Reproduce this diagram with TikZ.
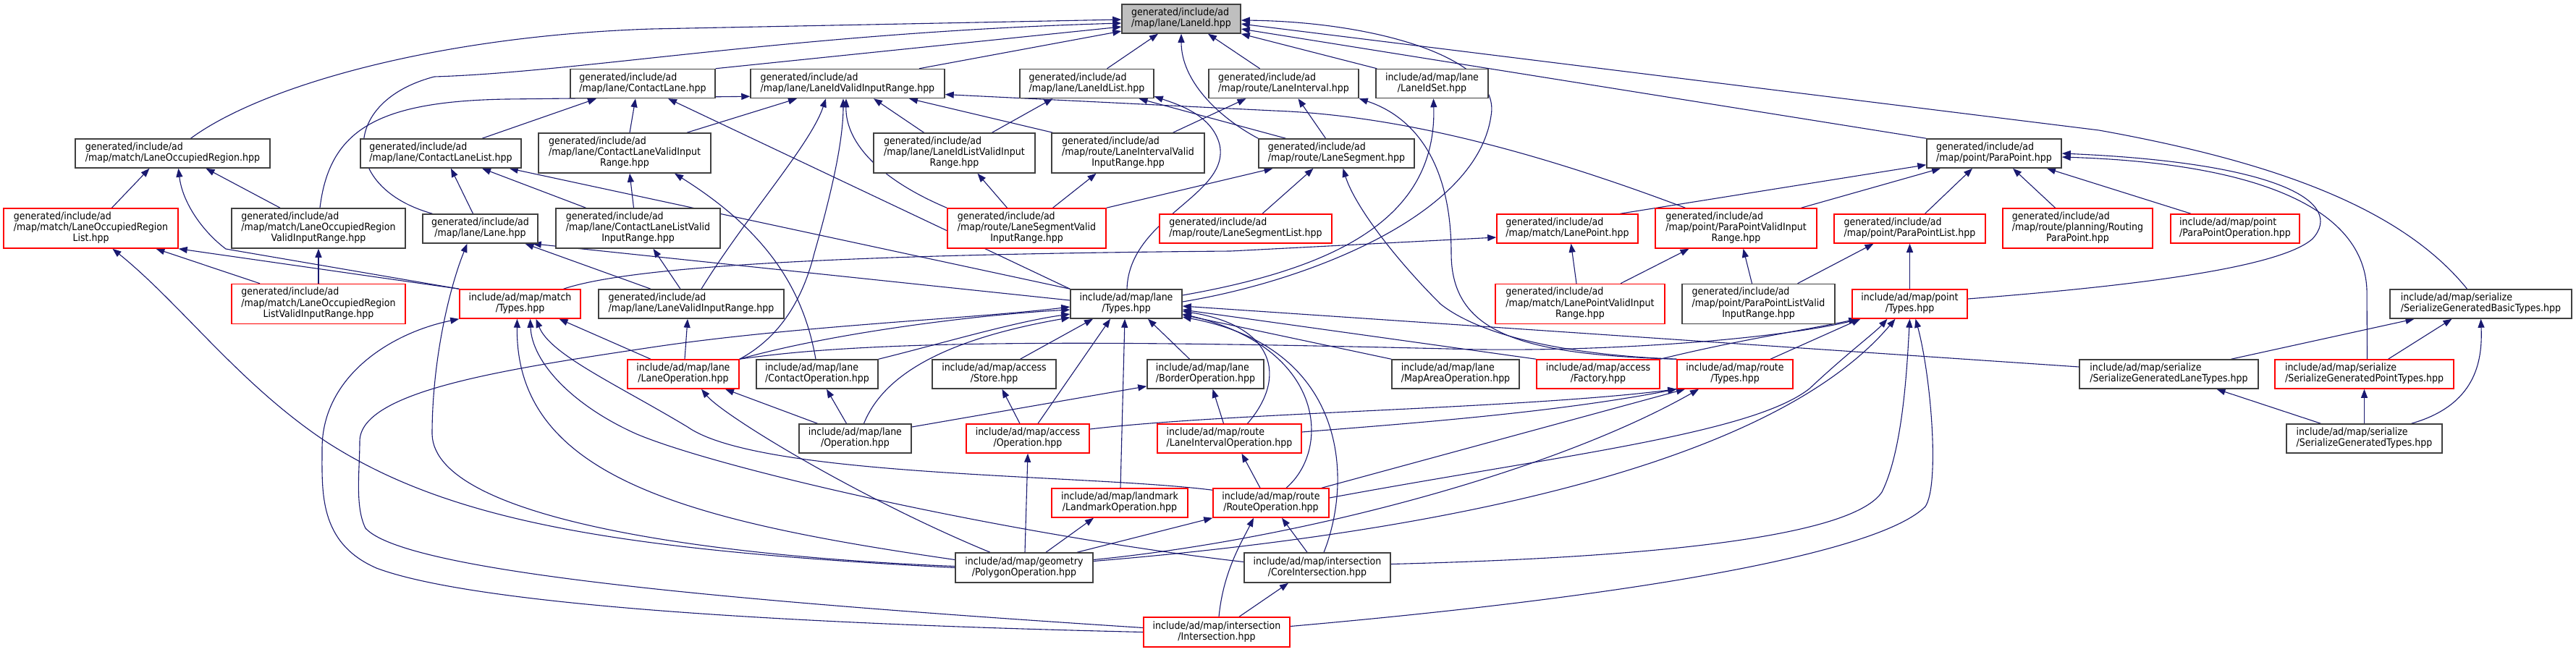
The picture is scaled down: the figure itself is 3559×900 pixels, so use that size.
\documentclass[tikz,border=0pt]{standalone}
\usepackage{fontspec}
\setmainfont{DejaVu Sans Condensed}
\usetikzlibrary{arrows.meta,calc}
\definecolor{edgec}{RGB}{25,25,112}
\definecolor{nodebd}{RGB}{64,64,64}
\definecolor{redbd}{RGB}{255,0,0}
\definecolor{lidfill}{RGB}{191,191,191}
\newcommand\lbb[2]{\begin{tabular}{@{}l@{}}#1\\\multicolumn{1}{@{}c@{}}{#2}\end{tabular}}
\newcommand\lbc[3]{\begin{tabular}{@{}l@{}}#1\\#2\\\multicolumn{1}{@{}c@{}}{#3}\end{tabular}}
\newcommand\AP[4]{($(#1.#2)+(#3,#4)$)}
\pgfdeclarelayer{edges}
\pgfdeclarelayer{back}
\pgfsetlayers{back,edges,main}
\tikzset{
 nb/.style={draw=nodebd, line width=1.5pt, fill=white, inner sep=0pt, font=\fontsize{14}{15}\selectfont},
 nr/.style={nb, draw=redbd},
 ng/.style={nb, fill=lidfill},
 e/.style={draw=edgec, line width=1.1pt, -{Triangle[length=12pt,width=9pt]}},
}
\begin{document}
\begin{tikzpicture}[x=1pt,y=-1pt]
\useasboundingbox (0,0) rectangle (3559,900);
\begin{pgfonlayer}{back}
\fill[white] (0,0) rectangle (3559,900);
\end{pgfonlayer}
% row 0
\node[ng,minimum width=164pt,minimum height=40pt] (lid) at (1632,26) {\lbb{generated/include/ad}{/map/lane/LaneId.hpp}};
% row 1
\node[nb,minimum width=200pt,minimum height=40pt] (cl) at (888,115.5) {\lbb{generated/include/ad}{/map/lane/ContactLane.hpp}};
\node[nb,minimum width=268pt,minimum height=40pt] (lidvir) at (1171,115.5) {\lbb{generated/include/ad}{/map/lane/LaneIdValidInputRange.hpp}};
\node[nb,minimum width=185pt,minimum height=40pt] (lidl) at (1501.5,115.5) {\lbb{generated/include/ad}{/map/lane/LaneIdList.hpp}};
\node[nb,minimum width=207pt,minimum height=40pt] (li) at (1773.5,115.5) {\lbb{generated/include/ad}{/map/route/LaneInterval.hpp}};
\node[nb,minimum width=155pt,minimum height=40pt] (lids) at (1978.5,115.5) {\lbb{include/ad/map/lane}{/LaneIdSet.hpp}};
% row 2
\node[nb,minimum width=269pt,minimum height=40pt] (lor) at (238.5,212) {\lbb{generated/include/ad}{/map/match/LaneOccupiedRegion.hpp}};
\node[nb,minimum width=222pt,minimum height=40pt] (cll) at (609,212) {\lbb{generated/include/ad}{/map/lane/ContactLaneList.hpp}};
\node[nb,minimum width=238pt,minimum height=55pt] (clvir) at (863,211.5) {\lbc{generated/include/ad}{/map/lane/ContactLaneValidInput}{Range.hpp}};
\node[nb,minimum width=223pt,minimum height=55pt] (lidlvir) at (1318.5,211.5) {\lbc{generated/include/ad}{/map/lane/LaneIdListValidInput}{Range.hpp}};
\node[nb,minimum width=211pt,minimum height=55pt] (livir) at (1558.5,211.5) {\lbc{generated/include/ad}{/map/route/LaneIntervalValid}{InputRange.hpp}};
\node[nb,minimum width=215pt,minimum height=40pt] (ls) at (1846.5,212) {\lbb{generated/include/ad}{/map/route/LaneSegment.hpp}};
\node[nb,minimum width=186pt,minimum height=40pt] (pp) at (2755,212) {\lbb{generated/include/ad}{/map/point/ParaPoint.hpp}};
% row 3
\node[nr,minimum width=241pt,minimum height=55pt] (lorl) at (125.5,315.5) {\lbc{generated/include/ad}{/map/match/LaneOccupiedRegion}{List.hpp}};
\node[nb,minimum width=240pt,minimum height=55pt] (lorvir) at (440,315.5) {\lbc{generated/include/ad}{/map/match/LaneOccupiedRegion}{ValidInputRange.hpp}};
\node[nb,minimum width=159pt,minimum height=40pt] (lane) at (663.5,316) {\lbb{generated/include/ad}{/map/lane/Lane.hpp}};
\node[nb,minimum width=227pt,minimum height=55pt] (cllvir) at (881.5,315.5) {\lbc{generated/include/ad}{/map/lane/ContactLaneListValid}{InputRange.hpp}};
\node[nr,minimum width=219pt,minimum height=55pt] (lsvir) at (1418.5,315.5) {\lbc{generated/include/ad}{/map/route/LaneSegmentValid}{InputRange.hpp}};
\node[nr,minimum width=238pt,minimum height=40pt] (lsl) at (1721,316) {\lbb{generated/include/ad}{/map/route/LaneSegmentList.hpp}};
\node[nr,minimum width=195pt,minimum height=40pt] (lp) at (2165.5,316) {\lbb{generated/include/ad}{/map/match/LanePoint.hpp}};
\node[nr,minimum width=223pt,minimum height=55pt] (ppvir) at (2398.5,315.5) {\lbc{generated/include/ad}{/map/point/ParaPointValidInput}{Range.hpp}};
\node[nr,minimum width=209pt,minimum height=40pt] (ppl) at (2638.5,316) {\lbb{generated/include/ad}{/map/point/ParaPointList.hpp}};
\node[nr,minimum width=207pt,minimum height=55pt] (rpp) at (2870.5,315.5) {\lbc{generated/include/ad}{/map/route/planning/Routing}{ParaPoint.hpp}};
\node[nr,minimum width=178pt,minimum height=40pt] (ppo) at (3088,316) {\lbb{include/ad/map/point}{/ParaPointOperation.hpp}};
% row 4
\node[nr,minimum width=240pt,minimum height=55pt] (lorlvir) at (440,420) {\lbc{generated/include/ad}{/map/match/LaneOccupiedRegion}{ListValidInputRange.hpp}};
\node[nr,minimum width=167pt,minimum height=40pt] (mt) at (718.5,420) {\lbb{include/ad/map/match}{/Types.hpp}};
\node[nb,minimum width=256pt,minimum height=40pt] (lvir) at (955,420) {\lbb{generated/include/ad}{/map/lane/LaneValidInputRange.hpp}};
\node[nb,minimum width=154pt,minimum height=40pt] (lt) at (1556,420) {\lbb{include/ad/map/lane}{/Types.hpp}};
\node[nr,minimum width=234pt,minimum height=55pt] (lpvir) at (2183,420) {\lbc{generated/include/ad}{/map/match/LanePointValidInput}{Range.hpp}};
\node[nb,minimum width=211pt,minimum height=55pt] (pplvir) at (2429.5,420) {\lbc{generated/include/ad}{/map/point/ParaPointListValid}{InputRange.hpp}};
\node[nr,minimum width=159pt,minimum height=40pt] (pt) at (2638.5,420) {\lbb{include/ad/map/point}{/Types.hpp}};
\node[nb,minimum width=251pt,minimum height=40pt] (sgbt) at (3427.5,420) {\lbb{include/ad/map/serialize}{/SerializeGeneratedBasicTypes.hpp}};
% row 5
\node[nr,minimum width=154pt,minimum height=40pt] (lop) at (944,517) {\lbb{include/ad/map/lane}{/LaneOperation.hpp}};
\node[nb,minimum width=168pt,minimum height=40pt] (cop) at (1129,517) {\lbb{include/ad/map/lane}{/ContactOperation.hpp}};
\node[nb,minimum width=171pt,minimum height=40pt] (st) at (1373.5,517) {\lbb{include/ad/map/access}{/Store.hpp}};
\node[nb,minimum width=161pt,minimum height=40pt] (bo) at (1665.5,517) {\lbb{include/ad/map/lane}{/BorderOperation.hpp}};
\node[nb,minimum width=176pt,minimum height=40pt] (mao) at (2011,517) {\lbb{include/ad/map/lane}{/MapAreaOperation.hpp}};
\node[nr,minimum width=170pt,minimum height=40pt] (fac) at (2208,517) {\lbb{include/ad/map/access}{/Factory.hpp}};
\node[nr,minimum width=160pt,minimum height=40pt] (rt) at (2397,517) {\lbb{include/ad/map/route}{/Types.hpp}};
\node[nb,minimum width=247pt,minimum height=40pt] (sglt) at (2996.5,517) {\lbb{include/ad/map/serialize}{/SerializeGeneratedLaneTypes.hpp}};
\node[nr,minimum width=247pt,minimum height=40pt] (sgpt) at (3266.5,517) {\lbb{include/ad/map/serialize}{/SerializeGeneratedPointTypes.hpp}};
% row 6
\node[nb,minimum width=155pt,minimum height=40pt] (lo) at (1181.5,606) {\lbb{include/ad/map/lane}{/Operation.hpp}};
\node[nr,minimum width=170pt,minimum height=40pt] (ao) at (1420,606) {\lbb{include/ad/map/access}{/Operation.hpp}};
\node[nr,minimum width=199pt,minimum height=40pt] (lio) at (1698.5,606) {\lbb{include/ad/map/route}{/LaneIntervalOperation.hpp}};
\node[nb,minimum width=215pt,minimum height=40pt] (sgt) at (3266.5,606) {\lbb{include/ad/map/serialize}{/SerializeGeneratedTypes.hpp}};
% row 7
\node[nr,minimum width=188pt,minimum height=40pt] (lmo) at (1547,695) {\lbb{include/ad/map/landmark}{/LandmarkOperation.hpp}};
\node[nr,minimum width=160pt,minimum height=40pt] (ro) at (1756,695) {\lbb{include/ad/map/route}{/RouteOperation.hpp}};
% row 8
\node[nb,minimum width=190pt,minimum height=41pt] (po) at (1415,784.5) {\lbb{include/ad/map/geometry}{/PolygonOperation.hpp}};
\node[nb,minimum width=202pt,minimum height=41pt] (ci) at (1820,784.5) {\lbb{include/ad/map/intersection}{/CoreIntersection.hpp}};
% row 9
\node[nr,minimum width=202pt,minimum height=41pt] (is) at (1681,873.5) {\lbb{include/ad/map/intersection}{/Intersection.hpp}};

\begin{pgfonlayer}{edges}
% into LaneId
\draw[e] \AP{cl}{north east}{0}{0} -- \AP{lid}{west}{0}{11};
\draw[e] \AP{lidvir}{north}{99}{0} -- \AP{lid}{west}{0}{17};
\draw[e] \AP{lidl}{north}{28}{0} -- \AP{lid}{south}{-32}{0};
\draw[e] \AP{li}{north}{-33}{0} -- \AP{lid}{south}{37}{0};
\draw[e] \AP{lids}{north west}{2}{0} -- \AP{lid}{south east}{0}{0};
\draw[e] \AP{lor}{north}{25}{0} .. controls (360,120) and (600,50) .. (900,40) -- \AP{lid}{west}{0}{1};
\draw[e] \AP{lane}{north}{-66}{0} .. controls (470,260) and (470,140) .. (600,106) .. controls (800,100) and (1100,45) .. \AP{lid}{west}{0}{6};
\draw[e] \AP{ls}{north west}{0}{0} .. controls (1680,160) and (1632,110) .. \AP{lid}{south}{0}{0};
\draw[e] \AP{pp}{north west}{0}{0} -- \AP{lid}{east}{0}{14};
\draw[e] \AP{sgbt}{north}{-19}{0} .. controls (3320,290) and (3150,225) .. (2900,180) -- \AP{lid}{east}{0}{7};
\draw[e] \AP{lt}{east}{0}{-3} .. controls (1800,390) and (2040,300) .. (2060,160) .. controls (2075,80) and (1900,30) .. \AP{lid}{east}{0}{2};
% row 1 targets
\draw[e] \AP{lorvir}{north}{2}{0} .. controls (455,180) and (520,140) .. (700,137) -- \AP{lidvir}{south west}{0}{-3};
\draw[e] \AP{cll}{north}{57}{0} -- \AP{cl}{south}{-64}{0};
\draw[e] \AP{clvir}{north}{7}{0} -- \AP{cl}{south}{-10}{0};
\draw[e] \AP{clvir}{north}{86}{0} -- \AP{lidvir}{south}{-70}{0};
\draw[e] \AP{lidlvir}{north}{-42}{0} -- \AP{lidvir}{south}{36}{0};
\draw[e] \AP{lidlvir}{north}{52}{0} -- \AP{lidl}{south}{-47}{0};
\draw[e] \AP{livir}{north}{-104}{0} -- \AP{lidvir}{south}{85}{0};
\draw[e] \AP{livir}{north}{62}{0} -- \AP{li}{south}{-52}{0};
\draw[e] \AP{ls}{north}{-70}{0} -- \AP{lidl}{south}{72}{0};
\draw[e] \AP{ls}{north}{-15}{0} -- \AP{li}{south}{20}{0};
\draw[e] \AP{lsvir}{north west}{0}{0} .. controls (1220,250) and (1168,200) .. \AP{lidvir}{south}{-2}{0};
\draw[e] \AP{ppvir}{north}{-70}{0} .. controls (2150,220) and (1950,160) .. (1760,153) -- \AP{lidvir}{east}{0}{15};
\draw[e] \AP{lvir}{north}{14}{0} .. controls (1030,300) and (1120,200) .. \AP{lidvir}{south}{-30}{0};
\draw[e] \AP{lop}{north east}{0}{0} .. controls (1080,465) and (1110,410) .. (1125,350) .. controls (1145,280) and (1165,200) .. \AP{lidvir}{south}{-6}{0};
\draw[e] \AP{lt}{north west}{0}{0} -- \AP{cl}{south}{35}{0};
\draw[e] \AP{lt}{north}{1}{0} .. controls (1560,300) and (1700,270) .. (1685,200) .. controls (1675,160) and (1630,145) .. \AP{lidl}{south east}{0}{-3};
\draw[e] \AP{lt}{east}{0}{-12} .. controls (1850,370) and (1985,300) .. \AP{lids}{south}{2}{0};
\draw[e] \AP{rt}{north west}{0}{0} .. controls (2100,490) and (2005,460) .. (2005,350) .. controls (2005,220) and (1950,160) .. \AP{li}{south east}{0}{0};
\draw[e] \AP{cop}{north}{-2}{0} .. controls (1110,400) and (1060,320) .. \AP{clvir}{south}{69}{0};
% row 2 targets
\draw[e] \AP{lorl}{north}{29}{0} -- \AP{lor}{south}{-32}{0};
\draw[e] \AP{lorvir}{north}{-53}{0} -- \AP{lor}{south}{46}{0};
\draw[e] \AP{mt}{north west}{0}{0} -- (312,344) .. controls (280,320) and (252,280) .. \AP{lor}{south}{8}{0};
\draw[e] \AP{lane}{north}{-10}{0} -- \AP{cll}{south}{14}{0};
\draw[e] \AP{cllvir}{north}{-72}{0} -- \AP{cll}{south}{57}{0};
\draw[e] \AP{lt}{north west}{0}{0} -- \AP{cll}{south east}{-17}{0};
\draw[e] \AP{cllvir}{north}{-6}{0} -- \AP{clvir}{south}{7}{0};
\draw[e] \AP{lsvir}{north}{-27}{0} -- \AP{lidlvir}{south}{32}{0};
\draw[e] \AP{lsvir}{north}{36}{0} -- \AP{livir}{south}{-44}{0};
\draw[e] \AP{lsvir}{north east}{0}{0} -- \AP{ls}{south}{-88}{0};
\draw[e] \AP{lsl}{north}{23}{0} -- \AP{ls}{south}{-32}{0};
\draw[e] \AP{rt}{north west}{0}{0} .. controls (2150,490) and (2040,460) .. (1990,420) .. controls (1920,350) and (1870,280) .. \AP{ls}{south}{9}{0};
\draw[e] \AP{lp}{north}{73}{0} -- \AP{pp}{south west}{0}{-5};
\draw[e] \AP{ppvir}{north}{90}{0} -- \AP{pp}{south}{-74}{0};
\draw[e] \AP{ppl}{north}{21}{0} -- \AP{pp}{south}{-30}{0};
\draw[e] \AP{rpp}{north}{-31}{0} -- \AP{pp}{south}{26}{0};
\draw[e] \AP{ppo}{north}{-61}{0} -- \AP{pp}{south}{73}{0};
\draw[e] \AP{pt}{east}{0}{-7} .. controls (2950,395) and (3150,370) .. (3195,330) .. controls (3240,280) and (3150,225) .. \AP{pp}{east}{0}{0};
\draw[e] \AP{sgpt}{north}{4}{0} -- (3270,400) .. controls (3265,280) and (3100,225) .. \AP{pp}{east}{0}{5};
% row 3 targets
\draw[e] \AP{lorlvir}{north}{-81}{0} -- \AP{lorl}{south}{90}{0};
\draw[e] \AP{lorlvir}{north}{0}{0} -- \AP{lorvir}{south}{0}{0};
\draw[e] \AP{mt}{north west}{0}{0} -- \AP{lorl}{south east}{0}{0};
\draw[e] \AP{mt}{north}{60}{0} .. controls (860,372) and (1100,352) .. (1700,347) -- \AP{lp}{west}{0}{12};
\draw[e] \AP{lvir}{north}{-15}{0} -- \AP{cllvir}{south}{21}{0};
\draw[e] \AP{lvir}{north}{-56}{0} -- \AP{lane}{south}{62}{0};
\draw[e] \AP{lt}{west}{0}{-5} -- \AP{lane}{south east}{-8}{0};
\draw[e] \AP{lpvir}{north}{-5}{0} -- \AP{lp}{south}{5}{0};
\draw[e] \AP{lpvir}{north}{56}{0} -- \AP{ppvir}{south}{-65}{0};
\draw[e] \AP{pplvir}{north}{-9}{0} -- \AP{ppvir}{south}{10}{0};
\draw[e] \AP{pplvir}{north}{54}{0} -- \AP{ppl}{south}{-50}{0};
\draw[e] \AP{pt}{north}{0}{0} -- \AP{ppl}{south}{0}{0};
\draw[e] \AP{po}{west}{0}{-2} .. controls (1000,770) and (600,720) .. (597,600) .. controls (597,500) and (620,400) .. \AP{lane}{south}{-18}{0};
\draw[e] \AP{po}{west}{0}{0} .. controls (850,760) and (620,720) .. (450,610) .. controls (330,530) and (250,420) .. \AP{lorl}{south}{30}{0};
% row 4 targets
\draw[e] \AP{lop}{north}{-45}{0} -- \AP{mt}{south}{54}{0};
\draw[e] \AP{lop}{north}{2}{0} -- \AP{lvir}{south}{-5}{0};
\draw[e] \AP{lop}{north east}{0}{0} .. controls (1150,460) and (1350,435) .. \AP{lt}{west}{0}{8};
\draw[e] \AP{lop}{north east}{0}{0} .. controls (1200,470) and (1500,470) .. (2000,482) .. controls (2200,488) and (2450,470) .. \AP{pt}{south west}{12}{0};
\draw[e] \AP{cop}{north east}{0}{0} .. controls (1300,475) and (1400,445) .. \AP{lt}{west}{0}{14};
\draw[e] \AP{st}{north}{36}{0} -- \AP{lt}{south}{-46}{0};
\draw[e] \AP{bo}{north}{-22}{0} -- \AP{lt}{south}{30}{0};
\draw[e] \AP{mao}{north west}{0}{0} -- \AP{lt}{east}{0}{15};
\draw[e] \AP{fac}{north west}{0}{0} -- \AP{lt}{east}{0}{8};
\draw[e] \AP{sglt}{west}{0}{-10} -- \AP{lt}{east}{0}{3};
\draw[e] \AP{rt}{north}{49}{0} -- \AP{pt}{south west}{12}{0};
\draw[e] \AP{fac}{north east}{0}{0} .. controls (2400,470) and (2500,455) .. \AP{pt}{south west}{8}{0};
\draw[e] \AP{sglt}{north}{86}{0} -- \AP{sgbt}{south}{-92}{0};
\draw[e] \AP{sgpt}{north}{33}{0} -- \AP{sgbt}{south}{-40}{0};
% row 5 targets
\draw[e] \AP{lo}{north}{-52}{0} -- \AP{lop}{south}{58}{0};
\draw[e] \AP{lo}{north}{-12}{0} -- \AP{cop}{south}{13}{0};
\draw[e] \AP{lo}{north}{12}{0} .. controls (1220,520) and (1300,470) .. \AP{lt}{south west}{0}{-2};
\draw[e] \AP{lo}{east}{0}{-16} -- \AP{bo}{south west}{0}{-4};
\draw[e] \AP{ao}{north}{-11}{0} -- \AP{st}{south}{11}{0};
\draw[e] \AP{ao}{north}{14}{0} -- \AP{lt}{south}{-22}{0};
\draw[e] \AP{ao}{east}{0}{-13} .. controls (1700,570) and (2100,565) .. \AP{rt}{south west}{0}{0};
\draw[e] \AP{lio}{north}{-8}{0} -- \AP{bo}{south}{10}{0};
\draw[e] \AP{lio}{north}{25}{0} .. controls (1780,520) and (1760,450) .. \AP{lt}{east}{0}{10};
\draw[e] \AP{lio}{east}{0}{-9} .. controls (1950,585) and (2150,570) .. \AP{rt}{south west}{0}{0};
\draw[e] \AP{sgt}{north}{-60}{0} -- \AP{sglt}{south}{66}{0};
\draw[e] \AP{sgt}{north}{0}{0} -- \AP{sgpt}{south}{0}{0};
\draw[e] \AP{sgt}{north}{65}{0} .. controls (3420,560) and (3430,500) .. \AP{sgbt}{south}{0}{0};
% row 6/7 sources
\draw[e] \AP{lmo}{north}{1}{0} -- \AP{lt}{south}{-2}{0};
\draw[e] \AP{ro}{north}{-15}{0} -- \AP{lio}{south}{17}{0};
\draw[e] \AP{ro}{north}{21}{0} .. controls (1840,620) and (1830,480) .. \AP{lt}{east}{0}{14};
\draw[e] \AP{ro}{north}{70}{0} -- \AP{rt}{south}{-69}{0};
\draw[e] \AP{ro}{east}{0}{-7} .. controls (2150,630) and (2420,600) .. (2500,537) .. controls (2550,490) and (2590,460) .. \AP{pt}{south}{-31}{0};
\draw[e] \AP{ro}{north west}{0}{3} .. controls (1500,655) and (1050,660) .. (950,590) .. controls (850,530) and (760,490) .. \AP{mt}{south}{22}{0};
% row 8 sources
\draw[e] \AP{po}{north}{-47}{0} .. controls (1190,690) and (1000,575) .. \AP{lop}{south}{25}{0};
\draw[e] \AP{po}{north}{1}{0} -- \AP{ao}{south}{0}{0};
\draw[e] \AP{po}{north}{30}{0} -- \AP{lmo}{south}{-36}{0};
\draw[e] \AP{po}{north}{73}{0} -- \AP{ro}{south west}{0}{0};
\draw[e] \AP{po}{east}{0}{-11} .. controls (1800,745) and (2150,650) .. \AP{rt}{south}{-50}{0};
\draw[e] \AP{po}{east}{0}{-9} .. controls (2000,735) and (2450,640) .. \AP{pt}{south}{-20}{0};
\draw[e] \AP{po}{west}{0}{-11} .. controls (950,720) and (712,660) .. \AP{mt}{south}{-4}{0};
\draw[e] \AP{ci}{north}{-14}{0} -- \AP{ro}{south}{15}{0};
\draw[e] \AP{ci}{north}{9}{0} .. controls (1870,660) and (1860,480) .. \AP{lt}{east}{0}{18};
\draw[e] \AP{ci}{east}{0}{-5} .. controls (2300,770) and (2560,740) .. (2600,680) .. controls (2630,620) and (2635,500) .. \AP{pt}{south}{0}{0};
\draw[e] \AP{ci}{west}{0}{-8} .. controls (1400,740) and (1000,650) .. (880,600) .. controls (790,560) and (735,500) .. \AP{mt}{south}{14}{0};
% row 9 sources
\draw[e] \AP{is}{north}{3}{0} .. controls (1690,790) and (1715,750) .. \AP{ro}{south}{-24}{0};
\draw[e] \AP{is}{north}{31}{0} -- \AP{ci}{south}{-40}{0};
\draw[e] \AP{is}{east}{0}{-8} .. controls (2300,820) and (2600,760) .. (2660,700) .. controls (2680,670) and (2668,520) .. \AP{pt}{south}{8}{0};
\draw[e] \AP{is}{west}{0}{0} .. controls (1000,860) and (640,830) .. (520,785) .. controls (440,750) and (445,680) .. (445,620) .. controls (445,520) and (540,460) .. \AP{mt}{south west}{0}{0};
\draw[e] \AP{is}{west}{0}{-6} .. controls (1000,830) and (560,790) .. (505,730) .. controls (490,700) and (497,650) .. (497,610) .. controls (497,540) and (700,510) .. (900,480) .. controls (1100,450) and (1350,440) .. \AP{lt}{west}{0}{4};
\end{pgfonlayer}
\end{tikzpicture}
\end{document}
